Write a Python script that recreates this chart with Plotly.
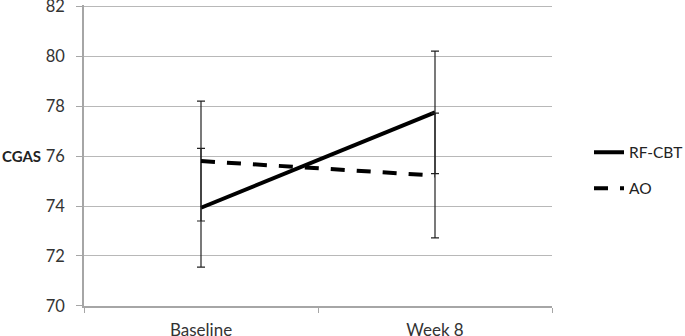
import plotly.graph_objects as go

categories = ["Baseline", "Week 8"]
rf_cbt = [73.93, 77.75]
rf_cbt_err = [2.38, 2.45]
ao = [75.8, 75.22]
ao_err = [2.4, 2.5]
y_ticks = [70, 72, 74, 76, 78, 80, 82]

xpos = list(range(len(categories)))

fig = go.Figure()
fig.add_trace(go.Scatter(
    x=xpos, y=rf_cbt, mode="lines", name="RF-CBT",
    line=dict(color="black", width=4),
    error_y=dict(type="data", array=rf_cbt_err, visible=True, color="#222", thickness=1.2, width=4),
    legendgroup="a",
))
fig.add_trace(go.Scatter(
    x=xpos, y=ao, mode="lines", name="AO",
    line=dict(color="black", width=4, dash="14px,12px"),
    error_y=dict(type="data", array=ao_err, visible=True, color="#222", thickness=1.2, width=4),
    legendgroup="b",
))

font = "Lato, 'Open Sans', sans-serif"
plot_w = 685 - 84 - 133
fig.update_layout(
    width=685, height=336,
    margin=dict(l=84, r=133, t=5, b=30, autoexpand=False),
    paper_bgcolor="white", plot_bgcolor="white",
    font=dict(family=font, size=16.5, color="#333"),
    showlegend=True,
    legend=dict(x=1.0 + 37 / plot_w, y=0.45, xanchor="left", yanchor="middle",
                traceorder="grouped", tracegroupgap=13, borderwidth=0,
                font=dict(size=15.5, color="#222"), bgcolor="rgba(0,0,0,0)"),
    xaxis=dict(range=[-0.5, 1.5], tickvals=xpos, ticktext=categories, ticks="",
               showgrid=False, showline=True, linecolor="#a6a6a6", linewidth=1.5,
               zeroline=False, fixedrange=True, automargin=False,
               ticklabelstandoff=8, ticklabeloverflow="allow",
               minor=dict(tickmode="linear", tick0=-0.5, dtick=1, ticks="outside",
                          ticklen=5, tickcolor="#a6a6a6", showgrid=False),
               tickfont=dict(size=17, color="#333")),
    yaxis=dict(range=[69.995, 82.05], tickvals=y_ticks, ticks="outside", ticklen=6,
               tickcolor="#a6a6a6", showgrid=True, gridcolor="#b8b8b8", gridwidth=1.2,
               showline=True, linecolor="#a6a6a6", linewidth=1.5, zeroline=False,
               automargin=False, ticklabeloverflow="allow", fixedrange=True,
               tickfont=dict(size=16.5, color="#333"), ticklabelstandoff=8),
    annotations=[dict(text="<b>CGAS</b>", xref="paper", yref="y", x=-84 / plot_w, y=76,
                      xanchor="left", yanchor="middle", showarrow=False,
                      font=dict(size=15, color="#222", family=font))],
)

fig.write_html("out.html", config={"displayModeBar": False},
               post_script="document.body.style.margin='0';")
